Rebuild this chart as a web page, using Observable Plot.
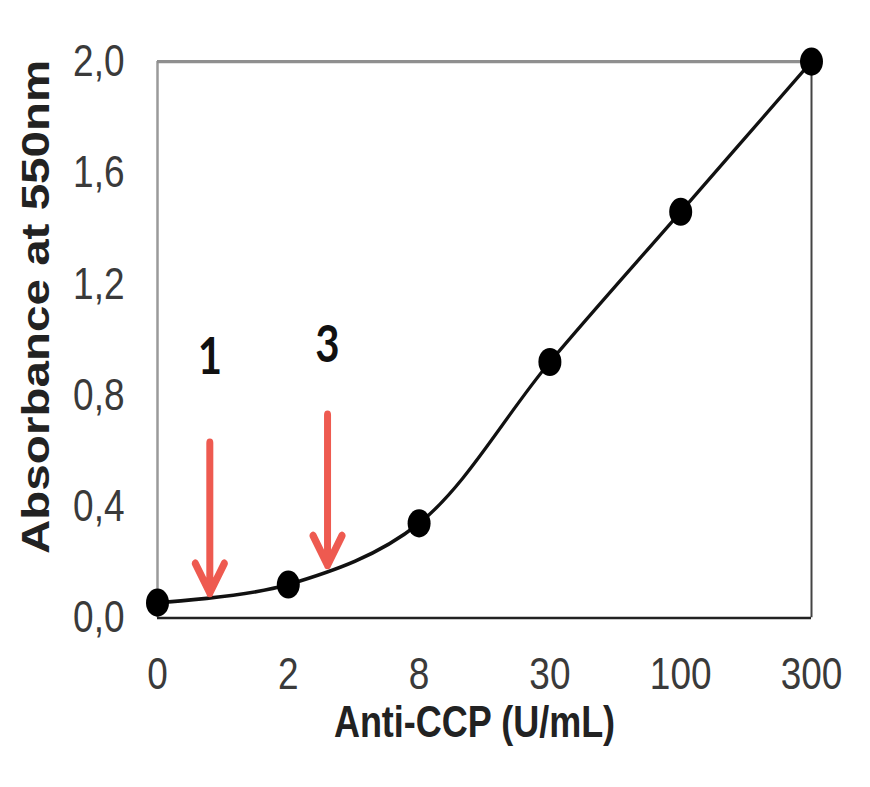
<!DOCTYPE html>
<html><head><meta charset="utf-8">
<script src="https://cdn.jsdelivr.net/npm/d3@7"></script>
<script src="https://cdn.jsdelivr.net/npm/@observablehq/plot@0.6"></script>
<style>
html,body{margin:0;padding:0;background:#fff;width:870px;height:787px;overflow:hidden;}
#topline{position:absolute;left:0;top:1px;width:870px;border-top:2px dashed #e3e3e3;}
#chart svg{display:block;transform:scaleY(1.22);transform-origin:0 0;}
</style></head><body>
<div id="topline"></div>
<div id="chart"></div>
<script>
// Data
const categories = ["0", "2", "8", "30", "100", "300"];
const absorbance = [0.055, 0.12, 0.34, 0.92, 1.46, 2.0];
const yTicks = [0, 0.4, 0.8, 1.2, 1.6, 2.0];
const arrowLabels = ["1", "3"];
const arrowPos = [0.4, 1.3];      // position along the category index
const arrowTop = [0.63, 0.73];
const arrowTip = [0.09, 0.19];
const arrowLabelY = [0.935, 0.978];
const xTitle = "Anti-CCP (U/mL)";
const yTitle = "Absorbance at 550nm";

const points = categories.map((c, i) => ({i, c, v: absorbance[i]}));
const arrows = arrowLabels.map((l, k) => ({label: l, x: arrowPos[k], top: arrowTop[k], tip: arrowTip[k], ly: arrowLabelY[k]}));

const chart = Plot.plot({
  width: 870,
  height: 645,
  marginLeft: 157,
  marginRight: 59,
  marginTop: 50,
  marginBottom: 139,
  x: {type: "linear", domain: [0, categories.length - 1]},
  y: {domain: [0, 2]},
  style: {fontFamily: "'Liberation Sans', Arial, sans-serif", fontSize: "37px", background: "white", overflow: "visible"},
  marks: [
    Plot.axisX({ticks: d3.range(categories.length), tickFormat: i => categories[i], tickSize: 0, tickPadding: 32, fill: "#3a3a3a", label: null}),
    Plot.axisY({ticks: yTicks, tickFormat: d => d.toFixed(1).replace(".", ","), tickSize: 0, tickPadding: 33, fill: "#3a3a3a", label: null}),
    Plot.ruleX([0], {stroke: "#9a9a9a", strokeWidth: 2.5}),
    Plot.ruleY([2], {stroke: "#8f8f8f", strokeWidth: 2.5}),
    Plot.ruleX([categories.length - 1], {stroke: "#444", strokeWidth: 2}),
    Plot.ruleY([0], {stroke: "#222", strokeWidth: 2}),
    Plot.line(points, {x: "i", y: "v", curve: "catmull-rom", stroke: "#111", strokeWidth: 3}),
    Plot.dot(points, {x: "i", y: "v", r: 11.5, fill: "#000"}),
    Plot.arrow(arrows, {x1: "x", x2: "x", y1: "top", y2: "tip", stroke: "#ee5a50", strokeWidth: 7, headLength: 6, headAngle: 62}),
    Plot.text(arrows, {x: "x", y: "ly", text: "label", fontFamily: "Lato, 'DejaVu Sans', sans-serif", fontWeight: "bold", fontSize: 42, fill: "#111"}),
    Plot.text([xTitle], {frameAnchor: "bottom", lineAnchor: "middle", textAnchor: "middle", dy: 86, dx: -10, fontWeight: "bold", fontSize: 36, fill: "#222"}),
    Plot.text([yTitle], {frameAnchor: "left", textAnchor: "middle", lineAnchor: "middle", rotate: -90, dx: -121, dy: -27, fontWeight: "bold", fontSize: 39, fill: "#222"})
  ]
});
document.getElementById("chart").appendChild(chart);
</script>
</body></html>
